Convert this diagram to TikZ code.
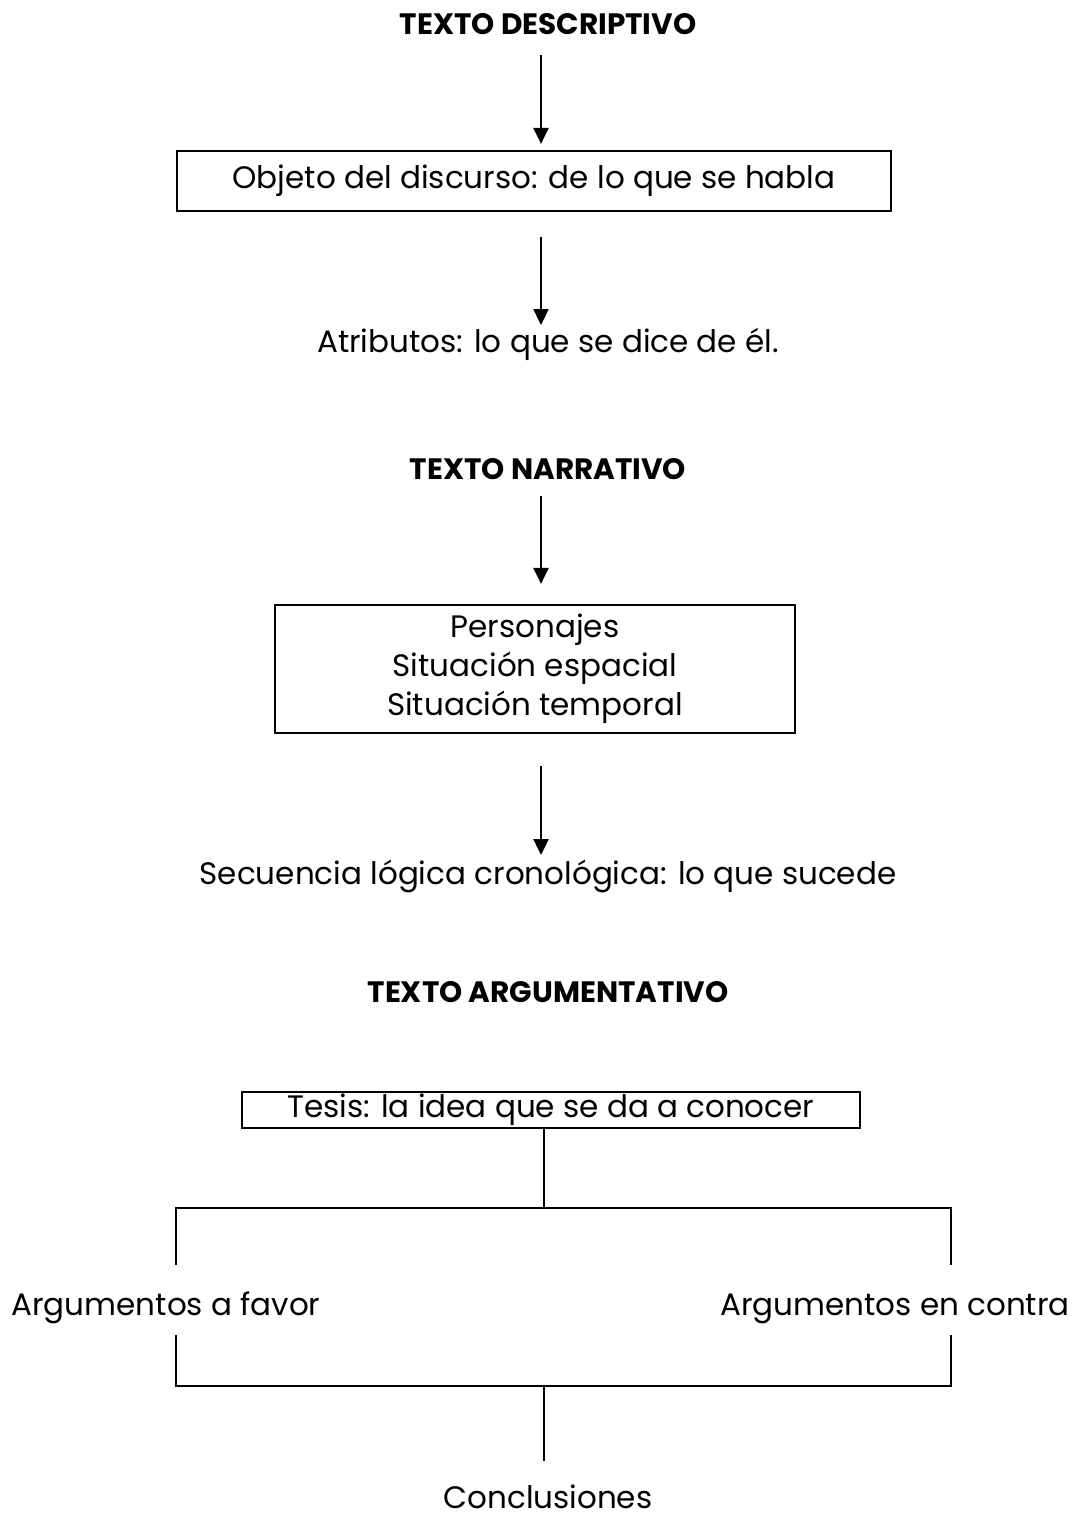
\documentclass[tikz,border=0pt]{standalone}
\usepackage{fontspec}
\setmainfont{Poppins}
\usetikzlibrary{arrows.meta}
\begin{document}
\begin{tikzpicture}[x=1pt,y=-1pt,
  txt/.style={inner sep=0pt,anchor=base,font=\fontsize{31}{39}\selectfont},
  ttl/.style={inner sep=0pt,anchor=base,font=\fontsize{29.5}{34}\selectfont\bfseries},
  boxed/.style={draw,line width=2.2pt,inner sep=0pt,font=\fontsize{31}{39}\selectfont,align=center},
  arr/.style={line width=2.4pt,-{Triangle[width=15pt,length=16pt]}},
  tree/.style={line width=1.8pt}]
\useasboundingbox (0,0) rectangle (1073,1518);
\coordinate (ax) at (541,0);
% descriptive
\node[ttl] (t1) at (548,34) {TEXTO DESCRIPTIVO};
\node[boxed,minimum width=714pt,minimum height=60pt] (b1) at (534,181) {Objeto del discurso: de lo que se habla};
\node[txt] (a1) at (548,352) {Atributos: lo que se dice de él.};
\draw[arr,shorten <=21pt,shorten >=6pt] (t1.south -| ax) -- (b1.north -| ax);
\draw[arr,shorten <=25pt,shorten >=27pt] (b1.south -| ax) -- (a1.base -| ax);
% narrative
\node[ttl] (t2) at (548,479) {TEXTO NARRATIVO};
\node[boxed,minimum width=520pt,minimum height=128pt] (b2) at (535,669) {Personajes\\Situación espacial\\Situación temporal};
\node[txt] (a2) at (548,884) {Secuencia lógica cronológica: lo que sucede};
\draw[arr,shorten <=17pt,shorten >=20pt] (t2.south -| ax) -- (b2.north -| ax);
\draw[arr,shorten <=32pt,shorten >=29pt] (b2.south -| ax) -- (a2.base -| ax);
% argumentative
\node[ttl] (t3) at (548,1002) {TEXTO ARGUMENTATIVO};
\node[boxed,minimum width=618pt,minimum height=36pt] (b3) at (551,1110) {Tesis: la idea que se da a conocer};
\node[txt] (fav) at (166,1315) {Argumentos a favor};
\node[txt] (con) at (895,1315) {Argumentos en contra};
\node[txt] (conc) at (548,1508) {Conclusiones};
\coordinate (j1) at (544,1208);
\coordinate (j2) at (544,1386);
\coordinate (l1) at (176,1208);
\coordinate (r1) at (951,1208);
\coordinate (l2) at (176,1386);
\coordinate (r2) at (951,1386);
\draw[tree] (b3.south -| j1) -- (j1);
\draw[tree] (l1 |- 0,1265) -- (l1) -- (r1) -- (r1 |- 0,1265);
\draw[tree] (l2 |- 0,1335) -- (l2) -- (r2) -- (r2 |- 0,1335);
\draw[tree] (j2) -- (conc.north -| j2) [shorten >=23pt];
\end{tikzpicture}
\end{document}
